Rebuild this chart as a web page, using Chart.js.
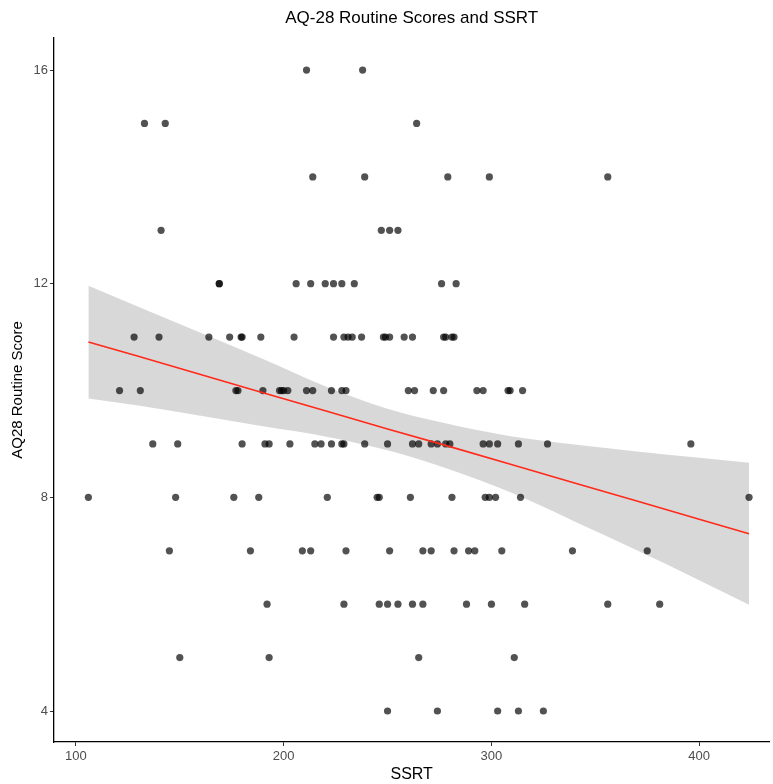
<!DOCTYPE html>
<html>
<head>
<meta charset="utf-8">
<script src="https://cdn.jsdelivr.net/npm/chart.js@4/dist/chart.umd.min.js"></script>
<style>
  html, body { margin: 0; padding: 0; background: #fff; }
  #wrap { width: 773px; height: 784px; }
</style>
</head>
<body>
<div id="wrap"><canvas id="chart"></canvas></div>
<script>
// AQ28 routine score levels and the SSRT values seen at each level
const scoreLevels = [16, 15, 14, 13, 12, 11, 10, 9, 8, 7, 6, 5, 4];
const ssrtByScore = [
    [211, 238],
    [133, 143, 264],
    [214, 239, 279, 299, 356],
    [141, 247, 251, 255],
    [169, 169, 206, 213, 220, 224, 228, 234, 276, 283],
    [128, 140, 164, 174, 179.5, 180, 189, 205, 224, 229, 231, 233, 237.5, 248, 249, 251, 258, 262, 277, 278, 281, 282],
    [121, 131, 177, 178, 190, 198, 199, 200, 202, 211, 214, 223, 228, 230, 260, 263, 272, 277, 293, 296, 308, 309, 315],
    [137, 149, 180, 191, 193, 203, 215, 218, 223, 228, 229, 239, 250, 262, 265, 271, 274, 278, 280, 296, 299, 303, 313, 327, 396],
    [106, 148, 176, 188, 221, 245, 246, 261, 281, 297, 299, 302, 314, 424],
    [145, 184, 209, 213, 230, 251, 267, 271, 282, 289, 292, 305, 339, 375],
    [192, 229, 246, 250, 255, 262, 267, 288, 300, 316, 356, 381],
    [150, 193, 265, 311],
    [250, 274, 303, 313, 325]
];

// fitted line and its confidence band
const fitX = [106, 130, 160, 190, 220, 250, 280, 310, 340, 370, 400, 424];
const fitY = [10.91, 10.64, 10.30, 9.96, 9.62, 9.28, 8.95, 8.61, 8.27, 7.93, 7.59, 7.32];
const bandUpper = [11.96, 11.57, 11.08, 10.59, 10.08, 9.66, 9.37, 9.14, 8.99, 8.86, 8.74, 8.65];
const bandLower = [9.85, 9.72, 9.53, 9.33, 9.14, 8.88, 8.52, 8.08, 7.55, 7.01, 6.45, 5.99];

// axis ticks
const xTicks = [100, 200, 300, 400];
const yTicks = [4, 8, 12, 16];

const points = [];
scoreLevels.forEach((score, i) => {
    ssrtByScore[i].forEach(x => points.push({ x: x, y: score }));
});
const linePts = fitX.map((x, i) => ({ x: x, y: fitY[i] }));
const upperPts = fitX.map((x, i) => ({ x: x, y: bandUpper[i] }));
const lowerPts = fitX.map((x, i) => ({ x: x, y: bandLower[i] }));

const FONT = "'Liberation Sans', Arial, sans-serif";

// title centred over the plotting panel
const panelTitle = {
    id: 'panelTitle',
    afterDraw(chart) {
        const { ctx, chartArea } = chart;
        ctx.save();
        ctx.font = '17px ' + FONT;
        ctx.fillStyle = '#000';
        ctx.textAlign = 'center';
        ctx.textBaseline = 'middle';
        ctx.fillText('AQ-28 Routine Scores and SSRT', (chartArea.left + chartArea.right) / 2, 18);
        ctx.restore();
    }
};

new Chart(document.getElementById('chart'), {
    type: 'scatter',
    data: {
        datasets: [
            {
                label: 'fit',
                data: linePts,
                showLine: true,
                borderColor: '#ff2a1a',
                borderWidth: 1.6,
                pointRadius: 0,
                fill: false
            },
            {
                label: 'points',
                data: points,
                pointRadius: 3.6,
                pointBackgroundColor: 'rgba(0,0,0,0.68)',
                pointBorderWidth: 0,
                pointHoverRadius: 3.6
            },
            {
                label: 'upper',
                data: upperPts,
                showLine: true,
                borderWidth: 0,
                borderColor: 'rgba(0,0,0,0)',
                backgroundColor: 'rgba(153,153,153,0.38)',
                pointRadius: 0,
                cubicInterpolationMode: 'monotone',
                fill: '+1'
            },
            {
                label: 'lower',
                data: lowerPts,
                showLine: true,
                borderWidth: 0,
                borderColor: 'rgba(0,0,0,0)',
                pointRadius: 0,
                cubicInterpolationMode: 'monotone',
                fill: false
            }
        ]
    },
    options: {
        responsive: true,
        maintainAspectRatio: false,
        animation: false,
        layout: { padding: { top: 38, right: 1, bottom: 0, left: 0 } },
        plugins: {
            legend: { display: false },
            tooltip: { enabled: false },
            title: { display: false }
        },
        scales: {
            x: {
                type: 'linear',
                min: 89.45,
                max: 433.8,
                afterBuildTicks: scale => { scale.ticks = xTicks.map(v => ({ value: v })); },
                afterFit: scale => { scale.height = 42; },
                grid: { drawOnChartArea: false, tickLength: 4, color: '#333', tickWidth: 1 },
                border: { display: true, color: '#000', width: 1.3 },
                ticks: { color: '#4d4d4d', font: { family: FONT, size: 13 }, padding: 3, maxRotation: 0 },
                title: { display: true, text: 'SSRT', color: '#000', font: { family: FONT, size: 16 }, padding: { top: 0, bottom: 0 } }
            },
            y: {
                type: 'linear',
                min: 3.42,
                max: 16.6,
                afterBuildTicks: scale => { scale.ticks = yTicks.map(v => ({ value: v })); },
                afterFit: scale => { scale.width = 54; },
                grid: { drawOnChartArea: false, tickLength: 4, color: '#333', tickWidth: 1 },
                border: { display: true, color: '#000', width: 1.3 },
                ticks: { color: '#4d4d4d', font: { family: FONT, size: 13 }, padding: 2 },
                title: { display: true, text: 'AQ28 Routine Score', color: '#000', font: { family: FONT, size: 15 }, padding: { top: 9, bottom: 0 } }
            }
        }
    },
    plugins: [panelTitle]
});
</script>
</body>
</html>
